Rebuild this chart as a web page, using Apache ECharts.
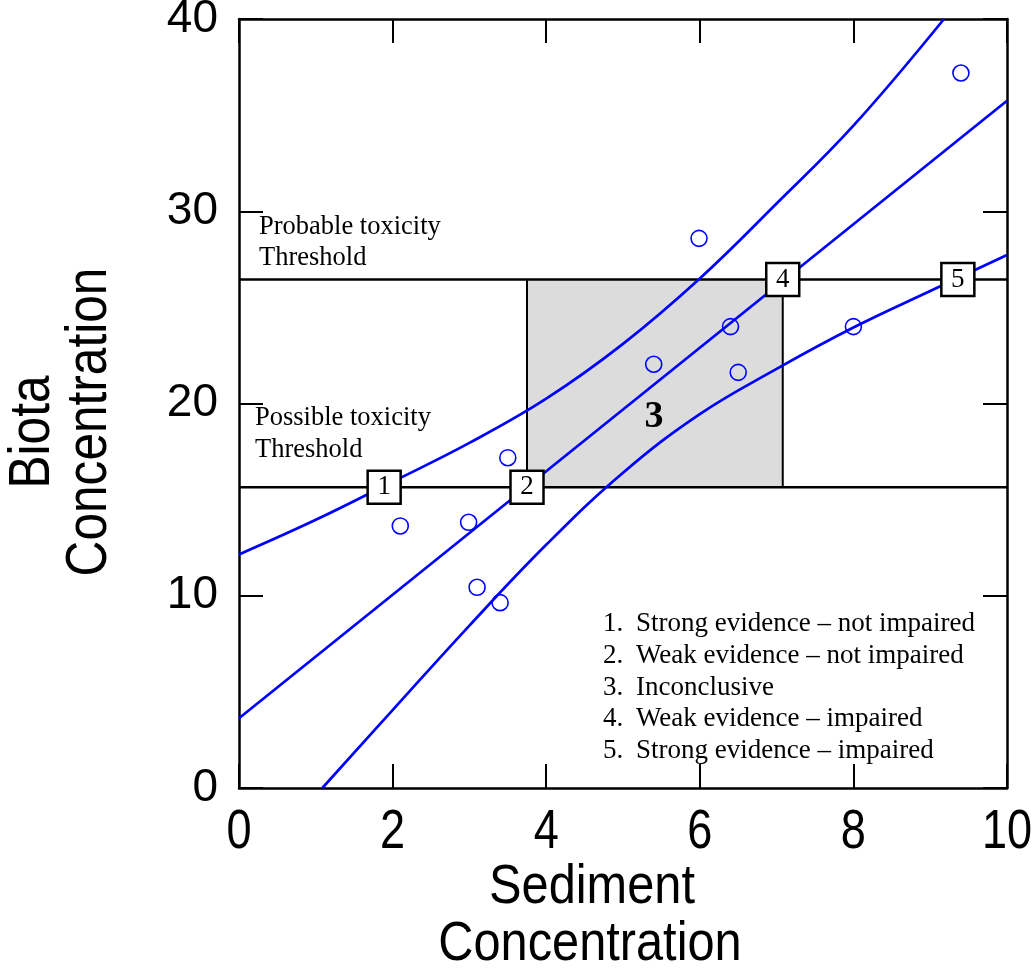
<!DOCTYPE html>
<html>
<head>
<meta charset="utf-8">
<script src="https://cdn.jsdelivr.net/npm/echarts@6/dist/echarts.min.js"></script>
<style>
html,body{margin:0;padding:0;background:#fff;overflow:hidden;}
#chart{width:1032px;height:970px;}
</style>
</head>
<body>
<div id="chart"></div>
<script>
// ---- data ----
const sediment = [2.10, 2.99, 3.10, 3.40, 3.50, 5.40, 5.99, 6.40, 6.50, 8.00, 9.40];
const biota    = [13.63, 13.82, 10.44, 9.64, 17.18, 22.04, 28.59, 24.00, 21.62, 24.00, 37.19];

const fitX = [0, 10];
const fitY = [3.63, 35.75];

const upperX = [0, 1, 2, 3, 4, 5, 6, 7, 8, 9.18];
const upperY = [12.15, 13.95, 15.93, 17.95, 20.25, 23.10, 26.50, 30.40, 34.45, 40.00];

const lowerX = [1.085, 2, 3, 4, 5, 6, 7, 8, 9, 10];
const lowerY = [0.00, 4.05, 8.45, 12.65, 16.40, 19.45, 21.80, 23.95, 25.85, 27.72];

const possibleThreshold = 15.65;
const probableThreshold = 26.45;
const inconclusiveX = [3.75, 7.08];

const zoneX = [1.89, 3.75, 7.08, 9.36];
const zoneY = [15.65, 15.65, 26.45, 26.45];
const zoneLabels = ['1', '2', '4', '5'];

const xTicks = [0, 2, 4, 6, 8, 10];
const yTicks = [0, 10, 20, 30, 40];

const legendNums = ['1.', '2.', '3.', '4.', '5.'];
const legendTexts = [
  'Strong evidence \u2013 not impaired',
  'Weak evidence \u2013 not impaired',
  'Inconclusive',
  'Weak evidence \u2013 impaired',
  'Strong evidence \u2013 impaired'
];

// ---- chart ----
const SERIF = "'Liberation Serif', 'Times New Roman', serif";
const SANS = "'Liberation Sans', Arial, Helvetica, sans-serif";
const NARROW_SCALE = 0.87;
const BLUE = '#0000ff';

const zip = (xs, ys) => xs.map((x, i) => [x, ys[i]]);

const chart = echarts.init(document.getElementById('chart'), null, {renderer: 'canvas'});

const axisCommon = {
  type: 'value',
  axisLine: {show: true, onZero: false, lineStyle: {color: '#000', width: 2.5}},
  axisTick: {show: true, inside: true, length: 24, lineStyle: {color: '#000', width: 2}},
  splitLine: {show: false}
};

function txt(x, y, text, font, opts) {
  return Object.assign({type: 'text', x: x, y: y, z: 100,
    style: {text: text, font: font, fill: '#000', align: 'left', verticalAlign: 'middle'}}, opts || {});
}
function ctxt(x, y, text, font, opts) {
  return Object.assign({type: 'text', x: x, y: y, z: 100,
    style: {text: text, font: font, fill: '#000', align: 'center', verticalAlign: 'middle'}}, opts || {});
}

const graphics = [];
// y axis title
graphics.push(ctxt(33, 432, 'Biota', '57px ' + SANS, {rotation: Math.PI / 2, scaleX: NARROW_SCALE}));
graphics.push(ctxt(90, 422, 'Concentration', '57px ' + SANS, {rotation: Math.PI / 2, scaleX: NARROW_SCALE}));
// x axis title
graphics.push(ctxt(592, 888, 'Sediment', '56px ' + SANS, {scaleX: NARROW_SCALE}));
graphics.push(ctxt(590, 945, 'Concentration', '56px ' + SANS, {scaleX: NARROW_SCALE}));
// threshold labels
graphics.push(txt(259, 227, 'Probable toxicity', '26.5px ' + SERIF));
graphics.push(txt(259, 258, 'Threshold', '26.5px ' + SERIF));
graphics.push(txt(255, 418, 'Possible toxicity', '26.5px ' + SERIF));
graphics.push(txt(255, 450, 'Threshold', '26.5px ' + SERIF));
// zone 3 label
graphics.push(ctxt(654, 417, '3', 'bold 38px ' + SERIF));
// legend
legendNums.forEach((n, i) => {
  const y = 624 + i * 31.8;
  graphics.push(txt(603, y, n, '27px ' + SERIF));
  graphics.push(txt(636, y, legendTexts[i], '27px ' + SERIF));
});

const option = {
  animation: false,
  backgroundColor: '#fff',
  grid: {left: 239, top: 19, width: 768, height: 769, containLabel: false, outerBoundsMode: 'none'},
  xAxis: [
    Object.assign({}, axisCommon, {
      position: 'bottom', min: xTicks[0], max: xTicks[xTicks.length - 1], interval: 2,
      axisLabel: {show: false}
    }),
    Object.assign({}, axisCommon, {
      position: 'top', min: xTicks[0], max: xTicks[xTicks.length - 1], interval: 2,
      axisLabel: {show: false}
    })
  ],
  yAxis: [
    Object.assign({}, axisCommon, {
      position: 'left', min: yTicks[0], max: yTicks[yTicks.length - 1], interval: 10,
      axisLabel: {show: true, margin: 21, fontSize: 46, fontFamily: SANS, color: '#000'}
    }),
    Object.assign({}, axisCommon, {
      position: 'right', min: yTicks[0], max: yTicks[yTicks.length - 1], interval: 10,
      axisLabel: {show: false}
    })
  ],
  graphic: graphics,
  series: [
    // shaded inconclusive zone
    {
      type: 'line', data: [], silent: true, z: 1,
      markArea: {
        silent: true,
        itemStyle: {color: '#dcdcdc', opacity: 1},
        data: [[{xAxis: inconclusiveX[0], yAxis: possibleThreshold}, {xAxis: inconclusiveX[1], yAxis: probableThreshold}]]
      }
    },
    // threshold lines
    {type: 'line', data: [[0, possibleThreshold], [10, possibleThreshold]], symbol: 'none', z: 3,
      lineStyle: {color: '#000', width: 2.5}},
    {type: 'line', data: [[0, probableThreshold], [10, probableThreshold]], symbol: 'none', z: 3,
      lineStyle: {color: '#000', width: 2.5}},
    {type: 'line', data: [[inconclusiveX[0], possibleThreshold], [inconclusiveX[0], probableThreshold]], symbol: 'none', z: 3,
      lineStyle: {color: '#000', width: 2}},
    {type: 'line', data: [[inconclusiveX[1], possibleThreshold], [inconclusiveX[1], probableThreshold]], symbol: 'none', z: 3,
      lineStyle: {color: '#000', width: 2}},
    // regression & bands
    {type: 'line', data: zip(fitX, fitY), symbol: 'none', z: 4, lineStyle: {color: BLUE, width: 2.7}},
    {type: 'line', data: zip(upperX, upperY), symbol: 'none', smooth: 0.4, z: 4, lineStyle: {color: BLUE, width: 2.7}},
    {type: 'line', data: zip(lowerX, lowerY), symbol: 'none', smooth: 0.4, z: 4, lineStyle: {color: BLUE, width: 2.7}},
    // observations
    {type: 'scatter', data: zip(sediment, biota), symbol: 'circle', symbolSize: 16, z: 5,
      itemStyle: {color: 'rgba(255,255,255,0)', borderColor: BLUE, borderWidth: 1.6, opacity: 1}},
    // zone markers
    {type: 'scatter', data: zip(zoneX, zoneY), symbol: 'rect', symbolSize: 33, z: 6,
      itemStyle: {color: '#fff', borderColor: '#000', borderWidth: 2.5, opacity: 1},
      label: {show: true, position: 'inside', formatter: p => zoneLabels[p.dataIndex],
        fontSize: 27, fontFamily: SERIF, color: '#000', textBorderWidth: 0, opacity: 1}}
  ]
};
chart.setOption(option);

// x tick labels placed through the axis scale (narrowed glyphs)
const xLabelGraphics = xTicks.map(v => {
  const px = chart.convertToPixel({xAxisIndex: 0}, v);
  return ctxt(px, 833, String(v), '55px ' + SANS, {scaleX: 0.82});
});
chart.setOption({graphic: graphics.concat(xLabelGraphics)});
</script>
</body>
</html>
